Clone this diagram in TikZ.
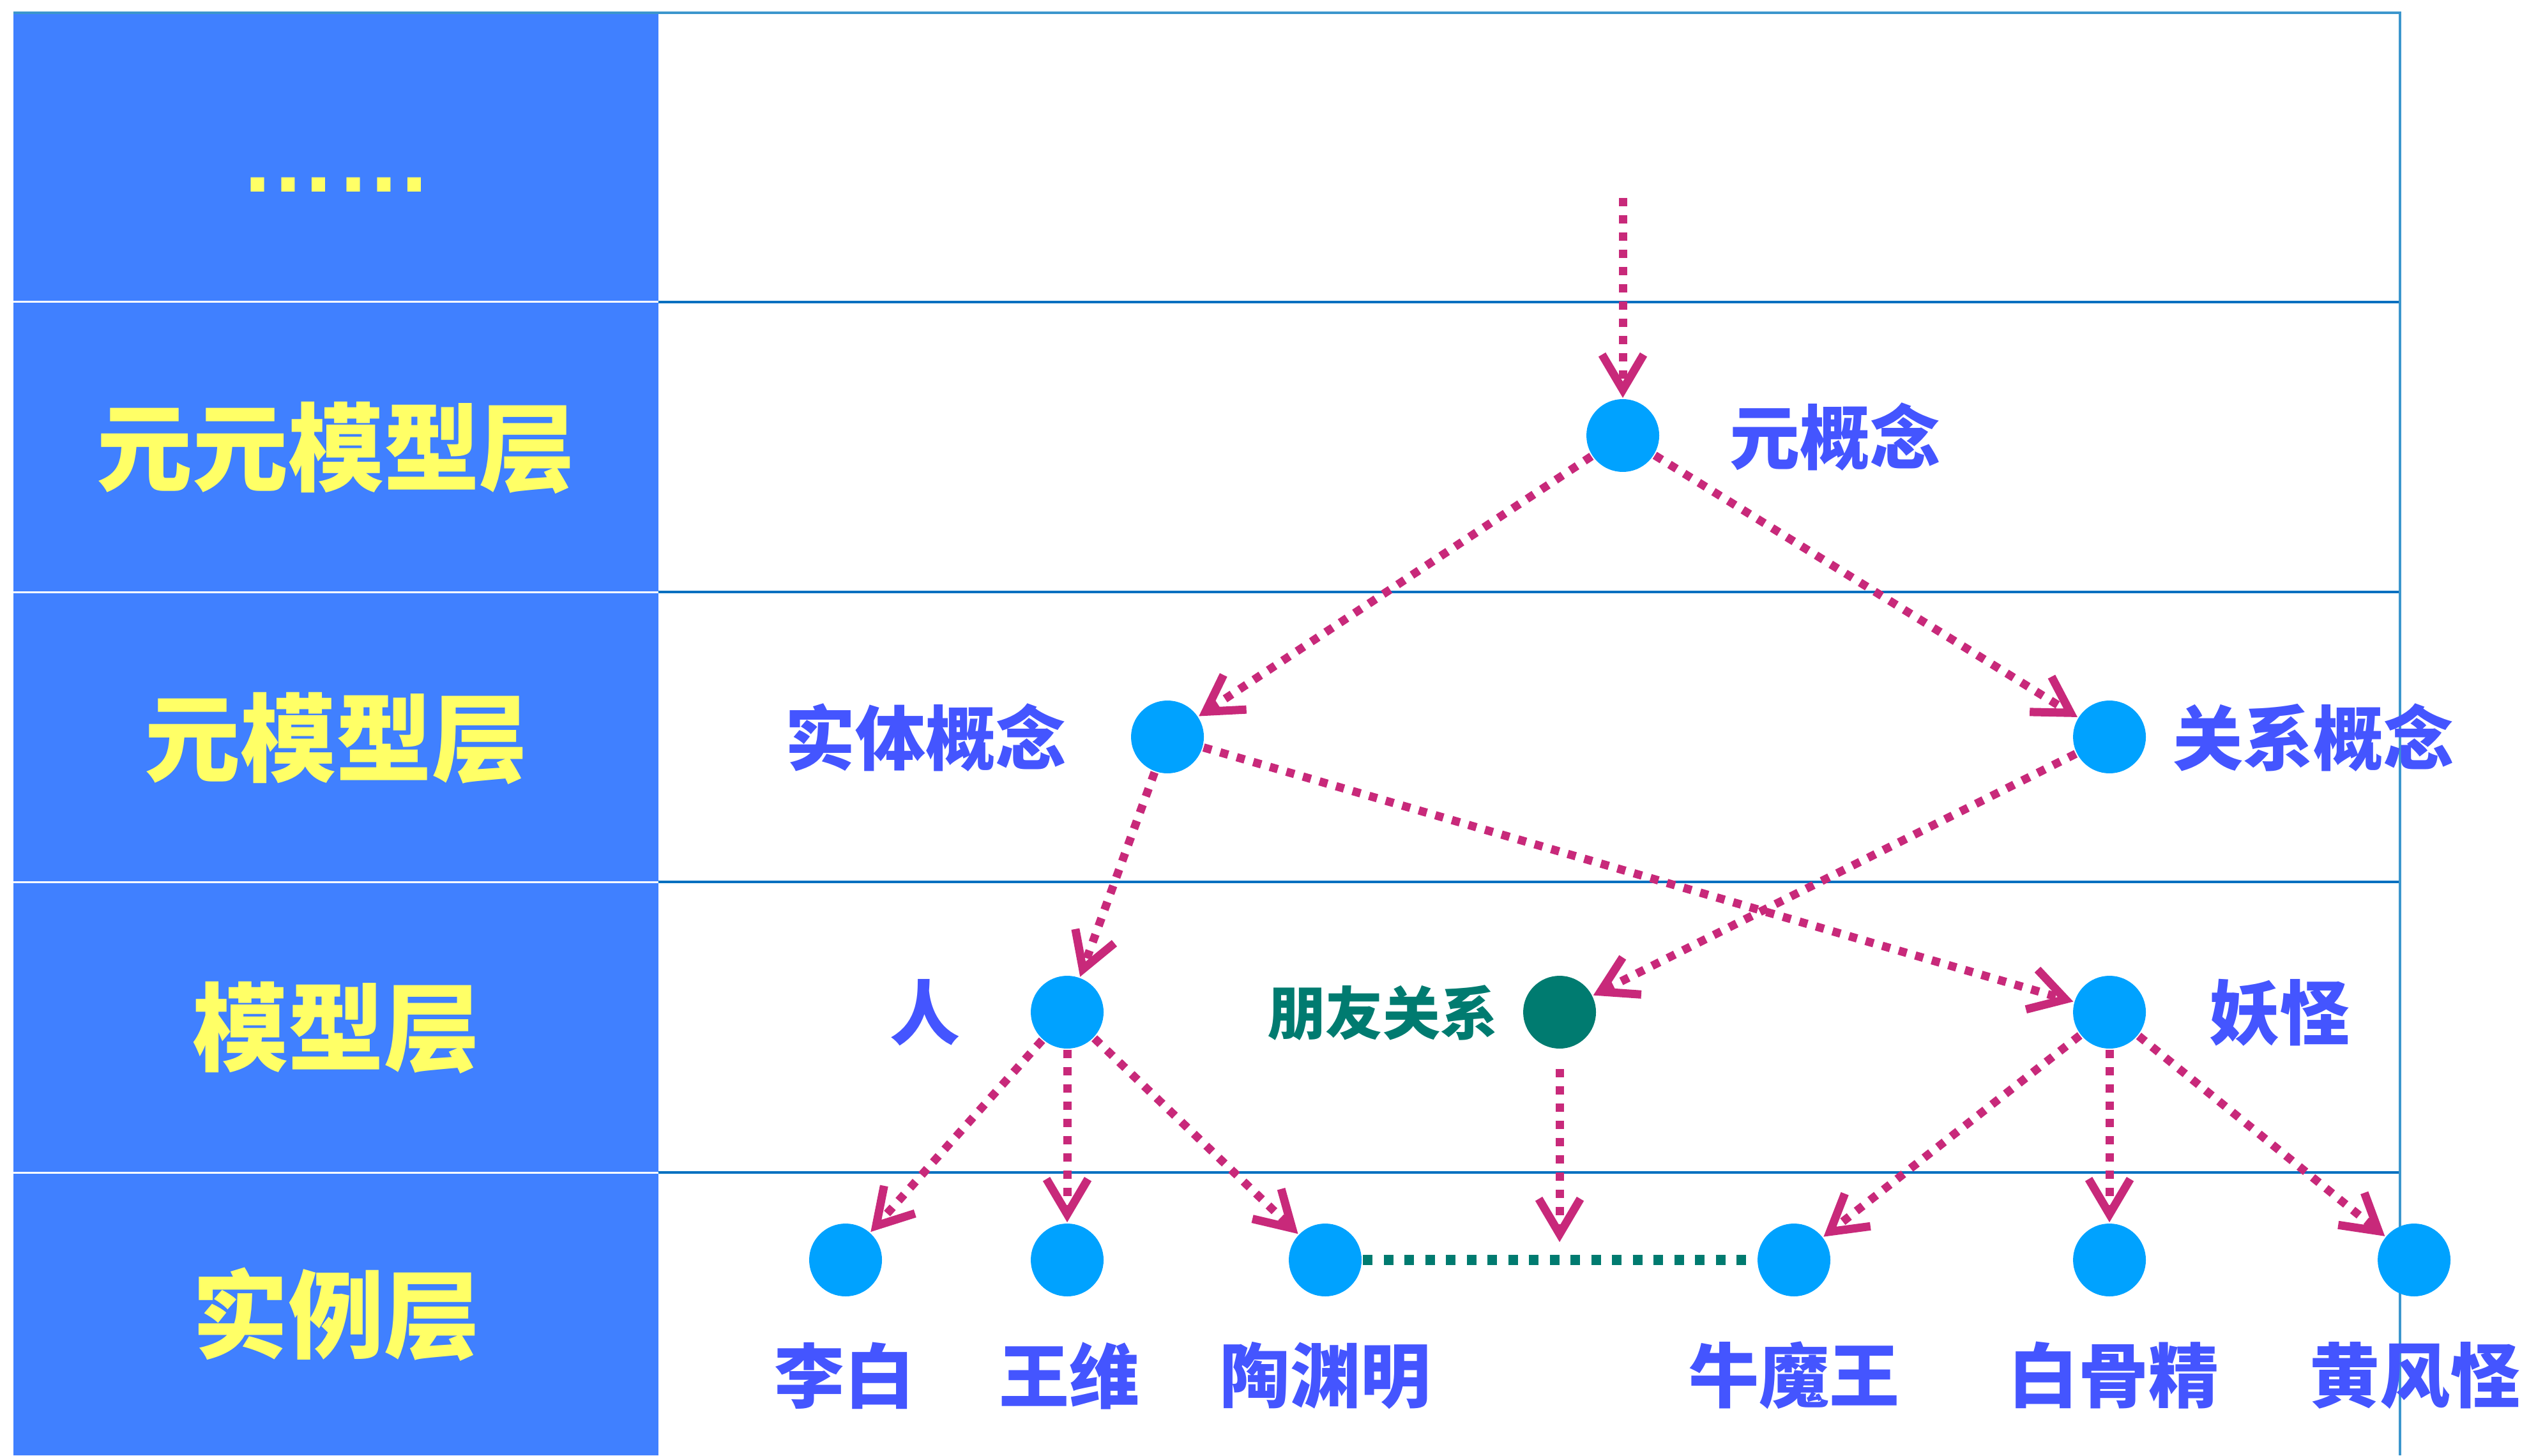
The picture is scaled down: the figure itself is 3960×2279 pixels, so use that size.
\documentclass[tikz,border=0pt]{standalone}
\usepackage{fontspec}
\newfontfamily\cjk{Noto Sans CJK SC}
\newfontfamily\latinsans{Liberation Sans}
\usetikzlibrary{arrows.meta}
\definecolor{panel}{RGB}{64,128,255}
\definecolor{ylw}{RGB}{255,255,102}
\definecolor{dotc}{RGB}{0,162,255}
\definecolor{lbl}{RGB}{68,85,255}
\definecolor{tealc}{RGB}{0,123,112}
\definecolor{arr}{RGB}{200,41,122}
\definecolor{rulec}{RGB}{0,112,192}
\definecolor{framec}{RGB}{60,150,205}
\begin{document}
\begin{tikzpicture}[x=0.1pt,y=-0.1pt,
  concept/.style={circle,fill=dotc,inner sep=0pt,minimum size=11.4pt},
  relnode/.style={circle,fill=tealc,inner sep=0pt,minimum size=11.4pt},
  lay/.style={font={\cjk\bfseries\fontsize{15pt}{15pt}\selectfont},text=ylw,inner sep=0pt},
  lab/.style={font={\cjk\bfseries\fontsize{11pt}{11pt}\selectfont},text=lbl,inner sep=0pt},
  smalllab/.style={font={\cjk\bfseries\fontsize{9pt}{9pt}\selectfont},text=tealc,inner sep=0pt},
  link/.style={draw=arr,line width=1.3pt,dash pattern=on 1.3pt off 1.4pt,
    -{Straight Barb[length=5.5pt,width=6.5pt]}},
  tie/.style={draw=tealc,line width=1.6pt,dash pattern=on 1.5pt off 1.75pt}]
\useasboundingbox (0,0) rectangle (3960,2279);
% table
\fill[panel] (21,20) rectangle (1031,2279);
\foreach \y in {473,927,1381,1836}{
  \draw[white,line width=0.3pt] (21,\y) -- (1031,\y);
  \draw[rulec,line width=0.4pt] (1031,\y) -- (3758,\y);
}
\draw[framec,line width=0.4pt] (21,20) -- (3758,20) -- (3758,2279);
% layer names
\node[lay,font={\latinsans\bfseries\fontsize{15pt}{15pt}\selectfont},anchor=base] (l0) at (526,301) {……};
\node[lay] (l1) at (526,701) {元元模型层};
\node[lay] (l2) at (526,1156) {元模型层};
\node[lay] (l3) at (526,1609) {模型层};
\node[lay] (l4) at (526,2058) {实例层};
% concept nodes
\node[concept] (meta) at (2541,682) {};
\node[concept] (ent) at (1828,1154) {};
\node[concept] (relc) at (3303,1154) {};
\node[concept] (ren) at (1671,1585) {};
\node[relnode] (friend) at (2442,1585) {};
\node[concept] (yao) at (3303,1585) {};
\node[concept] (libai) at (1324,1973) {};
\node[concept] (wangwei) at (1671,1973) {};
\node[concept] (tao) at (2075,1973) {};
\node[concept] (niu) at (2809,1973) {};
\node[concept] (bai) at (3303,1973) {};
\node[concept] (huang) at (3780,1973) {};
% labels
\node[lab] (tmeta) at (2873,684) {元概念};
\node[lab] (tent) at (1449,1155) {实体概念};
\node[lab] (trelc) at (3622,1155) {关系概念};
\node[lab] (tren) at (1448,1586) {人};
\node[smalllab] (tfriend) at (2165,1586) {朋友关系};
\node[lab] (tyao) at (3569,1586) {妖怪};
\node[lab] (tlibai) at (1322,2154) {李白};
\node[lab] (twangwei) at (1674,2154) {王维};
\node[lab] (ttao) at (2075,2154) {陶渊明};
\node[lab] (tniu) at (2809,2154) {牛魔王};
\node[lab] (tbai) at (3309,2154) {白骨精};
\node[lab] (thuang) at (3781,2154) {黄风怪};
% connectors
\coordinate (topin) at (2541,310);
\coordinate (tielink) at (2442,1945);
\draw[tie] (tao) -- (niu);
\draw[link] (topin) -- (meta);
\draw[link] (meta) -- (ent);
\draw[link] (meta) -- (relc);
\draw[link] (ent) -- (ren);
\draw[link] (ent) -- (yao);
\draw[link] (relc) -- (friend);
\draw[link] (ren) -- (libai);
\draw[link] (ren) -- (wangwei);
\draw[link] (ren) -- (tao);
\draw[link,shorten <=3pt] (friend) -- (tielink);
\draw[link] (yao) -- (niu);
\draw[link] (yao) -- (bai);
\draw[link] (yao) -- (huang);
\end{tikzpicture}
\end{document}
